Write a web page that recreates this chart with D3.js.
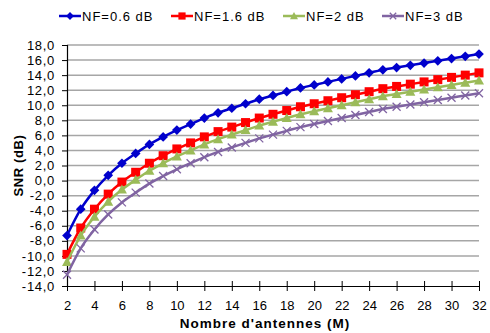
<!DOCTYPE html>
<html>
<head>
<meta charset="utf-8">
<script src="https://cdn.jsdelivr.net/npm/d3@7"></script>
<style>
  body { margin: 0; background: #fff; }
  svg { display: block; font-family: "Liberation Sans", Arial, sans-serif; }
</style>
</head>
<body>
<svg id="chart" width="490" height="333"></svg>
<script>
// nombre d'antennes M
const antennas = d3.range(2, 33);

const snrNF06 = [-7.3, -3.8, -1.3, 0.7, 2.3, 3.6, 4.8, 5.8, 6.7, 7.5, 8.3, 9.0, 9.6, 10.2, 10.8, 11.3,
  11.8, 12.3, 12.7, 13.1, 13.5, 13.9, 14.3, 14.7, 15.0, 15.3, 15.6, 15.9, 16.2, 16.5, 16.8];
const snrNF16 = [-9.8, -6.3, -3.8, -1.8, -0.2, 1.1, 2.3, 3.3, 4.2, 5.0, 5.8, 6.5, 7.1, 7.7, 8.3, 8.8,
  9.3, 9.8, 10.2, 10.6, 11.0, 11.4, 11.8, 12.2, 12.5, 12.8, 13.1, 13.4, 13.7, 14.0, 14.3];
const snrNF2 = [-10.8, -7.3, -4.8, -2.8, -1.2, 0.1, 1.3, 2.3, 3.2, 4.0, 4.8, 5.5, 6.1, 6.7, 7.3, 7.8,
  8.3, 8.8, 9.2, 9.6, 10.0, 10.4, 10.8, 11.2, 11.5, 11.8, 12.1, 12.4, 12.7, 13.0, 13.3];
const snrNF3 = [-12.5, -9.0, -6.5, -4.5, -2.9, -1.6, -0.4, 0.6, 1.5, 2.3, 3.1, 3.8, 4.4, 5.0, 5.6, 6.1,
  6.6, 7.1, 7.5, 7.9, 8.3, 8.7, 9.1, 9.5, 9.8, 10.1, 10.4, 10.7, 11.0, 11.3, 11.6];

const seriesNames = ['NF=0.6 dB', 'NF=1.6 dB', 'NF=2 dB', 'NF=3 dB'];
const seriesColors = ['#0000CC', '#FF0000', '#9BBB59', '#8064A2'];
const seriesMarkers = ['diamond', 'square', 'triangle', 'cross'];
const xTicks = d3.range(2, 33, 2);
const yTicks = d3.range(-14, 19, 2);

const series = [snrNF06, snrNF16, snrNF2, snrNF3].map((vals, i) => ({
  name: seriesNames[i],
  color: seriesColors[i],
  marker: seriesMarkers[i],
  points: vals.map((v, j) => ({ m: antennas[j], snr: v }))
}));

const margin = { top: 45, right: 11, bottom: 47, left: 67 };
const width = 490 - margin.left - margin.right;
const height = 333 - margin.top - margin.bottom;

const svg = d3.select('#chart')
  .append('g')
  .attr('transform', 'translate(' + margin.left + ',' + margin.top + ')');

const x = d3.scaleLinear().domain([2, 32]).range([0, width]);
const y = d3.scaleLinear().domain([-14, 18]).range([height, 0]);

// gridlines
svg.selectAll('.grid')
  .data(yTicks.filter(d => d > -14))
  .enter().append('line')
  .attr('x1', 0).attr('x2', width)
  .attr('y1', d => y(d)).attr('y2', d => y(d))
  .attr('stroke', '#a6a6a6')
  .attr('stroke-width', 1.5);

// y axis
const yAxis = svg.append('g')
  .call(d3.axisLeft(y).tickValues(yTicks).tickSize(5).tickPadding(7)
    .tickFormat(d => d3.format('.1f')(d).replace('.', ',').replace('−', '-')));
yAxis.select('.domain').attr('stroke', '#000').attr('stroke-width', 1.2);
yAxis.selectAll('.tick line').attr('stroke', '#000');
yAxis.selectAll('text').attr('font-size', 13).attr('fill', '#000')
  .attr('letter-spacing', 0.7)
  .style('font-family', '"Liberation Sans", Arial, sans-serif');

// x axis
const xAxis = svg.append('g')
  .attr('transform', 'translate(0,' + height + ')')
  .call(d3.axisBottom(x).tickValues(xTicks).tickSize(5).tickSizeOuter(0).tickPadding(10));
xAxis.select('.domain').attr('stroke', '#000').attr('stroke-width', 1.2);
xAxis.selectAll('.tick line').attr('stroke', '#000').attr('y1', -5);
xAxis.selectAll('text').attr('font-size', 13).attr('fill', '#000')
  .style('font-family', '"Liberation Sans", Arial, sans-serif');

// axis titles
svg.append('text')
  .attr('x', 265 - margin.left)
  .attr('y', height + 42)
  .attr('text-anchor', 'middle')
  .attr('font-size', 13.5)
  .attr('font-weight', 'bold')
  .attr('letter-spacing', 1)
  .text("Nombre d'antennes (M)");

svg.append('text')
  .attr('transform', 'rotate(-90)')
  .attr('x', -height / 2)
  .attr('y', -margin.left + 23)
  .attr('text-anchor', 'middle')
  .attr('font-size', 13)
  .attr('font-weight', 'bold')
  .attr('letter-spacing', 0.6)
  .text('SNR (dB)');

const line = d3.line()
  .x(d => x(d.m))
  .y(d => y(d.snr))
  .curve(d3.curveMonotoneX);

function drawMarker(sel, type, color, k) {
  k = k || 1;
  if (type === 'diamond') {
    sel.append('path').attr('d', d3.symbol(d3.symbolDiamond2, 60 * k * k)).attr('fill', color);
  } else if (type === 'square') {
    sel.append('rect').attr('x', -4.5 * k).attr('y', -4.5 * k)
      .attr('width', 9 * k).attr('height', 9 * k).attr('fill', color);
  } else if (type === 'triangle') {
    sel.append('path').attr('d', 'M0,' + (-5 * k) + 'L' + (5 * k) + ',' + (4 * k) + 'L' + (-5 * k) + ',' + (4 * k) + 'Z')
      .attr('fill', color);
  } else {
    const r = 4 * k;
    sel.append('path').attr('d', 'M' + (-r) + ',' + (-r) + 'L' + r + ',' + r + 'M' + (-r) + ',' + r + 'L' + r + ',' + (-r))
      .attr('stroke', color).attr('stroke-width', 1.3);
  }
}

series.forEach(s => {
  svg.append('path')
    .datum(s.points)
    .attr('d', line)
    .attr('fill', 'none')
    .attr('stroke', s.color)
    .attr('stroke-width', 2.5);

  svg.selectAll('.pt-' + s.marker)
    .data(s.points)
    .enter().append('g')
    .attr('class', 'pt-' + s.marker)
    .attr('transform', d => 'translate(' + x(d.m) + ',' + y(d.snr) + ')')
    .each(function () { drawMarker(d3.select(this), s.marker, s.color); });
});

// legend
const legendX = [59, 171, 283, 382];
const legend = d3.select('#chart').selectAll('.legend')
  .data(series)
  .enter().append('g')
  .attr('class', 'legend')
  .attr('transform', (d, i) => 'translate(' + legendX[i] + ',16)');

legend.append('line')
  .attr('x1', 0).attr('x2', 22)
  .attr('stroke', d => d.color)
  .attr('stroke-width', 2.5);

legend.each(function (d) {
  const g = d3.select(this).append('g').attr('transform', 'translate(11,0)');
  drawMarker(g, d.marker, d.color, 0.8);
});

legend.append('text')
  .attr('x', 23)
  .attr('y', 5)
  .attr('font-size', 13)
  .attr('letter-spacing', 1)
  .text(d => d.name);
</script>
</body>
</html>
